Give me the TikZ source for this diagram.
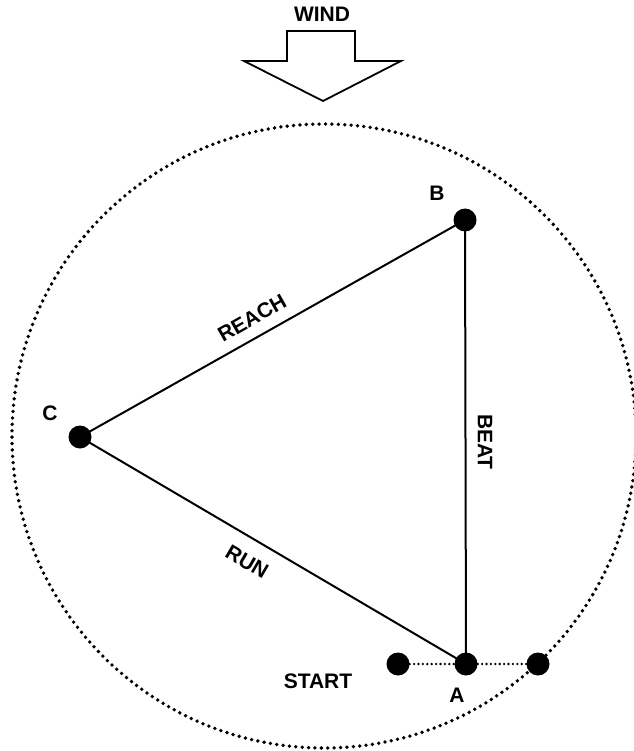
\documentclass[tikz,border=0pt]{standalone}
\usepackage{fontspec}
\setmainfont{Liberation Sans}
\begin{document}
\begin{tikzpicture}[x=1pt,y=-1pt,
  lbl/.style={font=\fontsize{21}{24}\selectfont\bfseries, inner sep=0pt},
  dot/.style={circle, fill=black, inner sep=0pt, minimum size=23pt},
  course/.style={line width=2pt},
  ring/.style={line width=3.8pt, line cap=round, dash pattern=on 0pt off 6.4pt},
  link/.style={line width=2.6pt, line cap=round, dash pattern=on 0pt off 4.4pt}]
\useasboundingbox (0,0) rectangle (633,751);
\fill[white] (0,0) rectangle (633,751);
% wind arrow
\draw[line width=1.8pt, line join=miter] (287,31) -- (355,31) -- (355,61) -- (401,61) -- (323,101) -- (244,61) -- (287,61) -- cycle;
\node[lbl] (wind) at (322,14) {WIND};
% course circle
\draw[ring] (324,436) circle[radius=312];
% marks
\node[dot] (B) at (465,220) {};
\node[dot] (C) at (80,437) {};
\node[dot] (A) at (466,664) {};
\node[dot] (S) at (398,664) {};
\node[dot] (E) at (538,664) {};
% labels
\node[lbl] (lB) at (437,193) {B};
\node[lbl] (lC) at (50,413) {C};
\node[lbl] (lA) at (457,695) {A};
\node[lbl] (lS) at (318,681) {START};
% legs
\draw[course] (C.center) -- (B.center);
\draw[course] (C.center) -- (A.center);
\draw[course] (A.center) -- (B.center);
\node[lbl, rotate=29.5] (reach) at (252,318) {REACH};
\node[lbl, rotate=-30.4] (run) at (247,562) {RUN};
\node[lbl, rotate=-90] (beat) at (485,442) {BEAT};
% start line
\draw[link] (S) -- (A);
\draw[link] (A) -- (E);
\end{tikzpicture}
\end{document}
